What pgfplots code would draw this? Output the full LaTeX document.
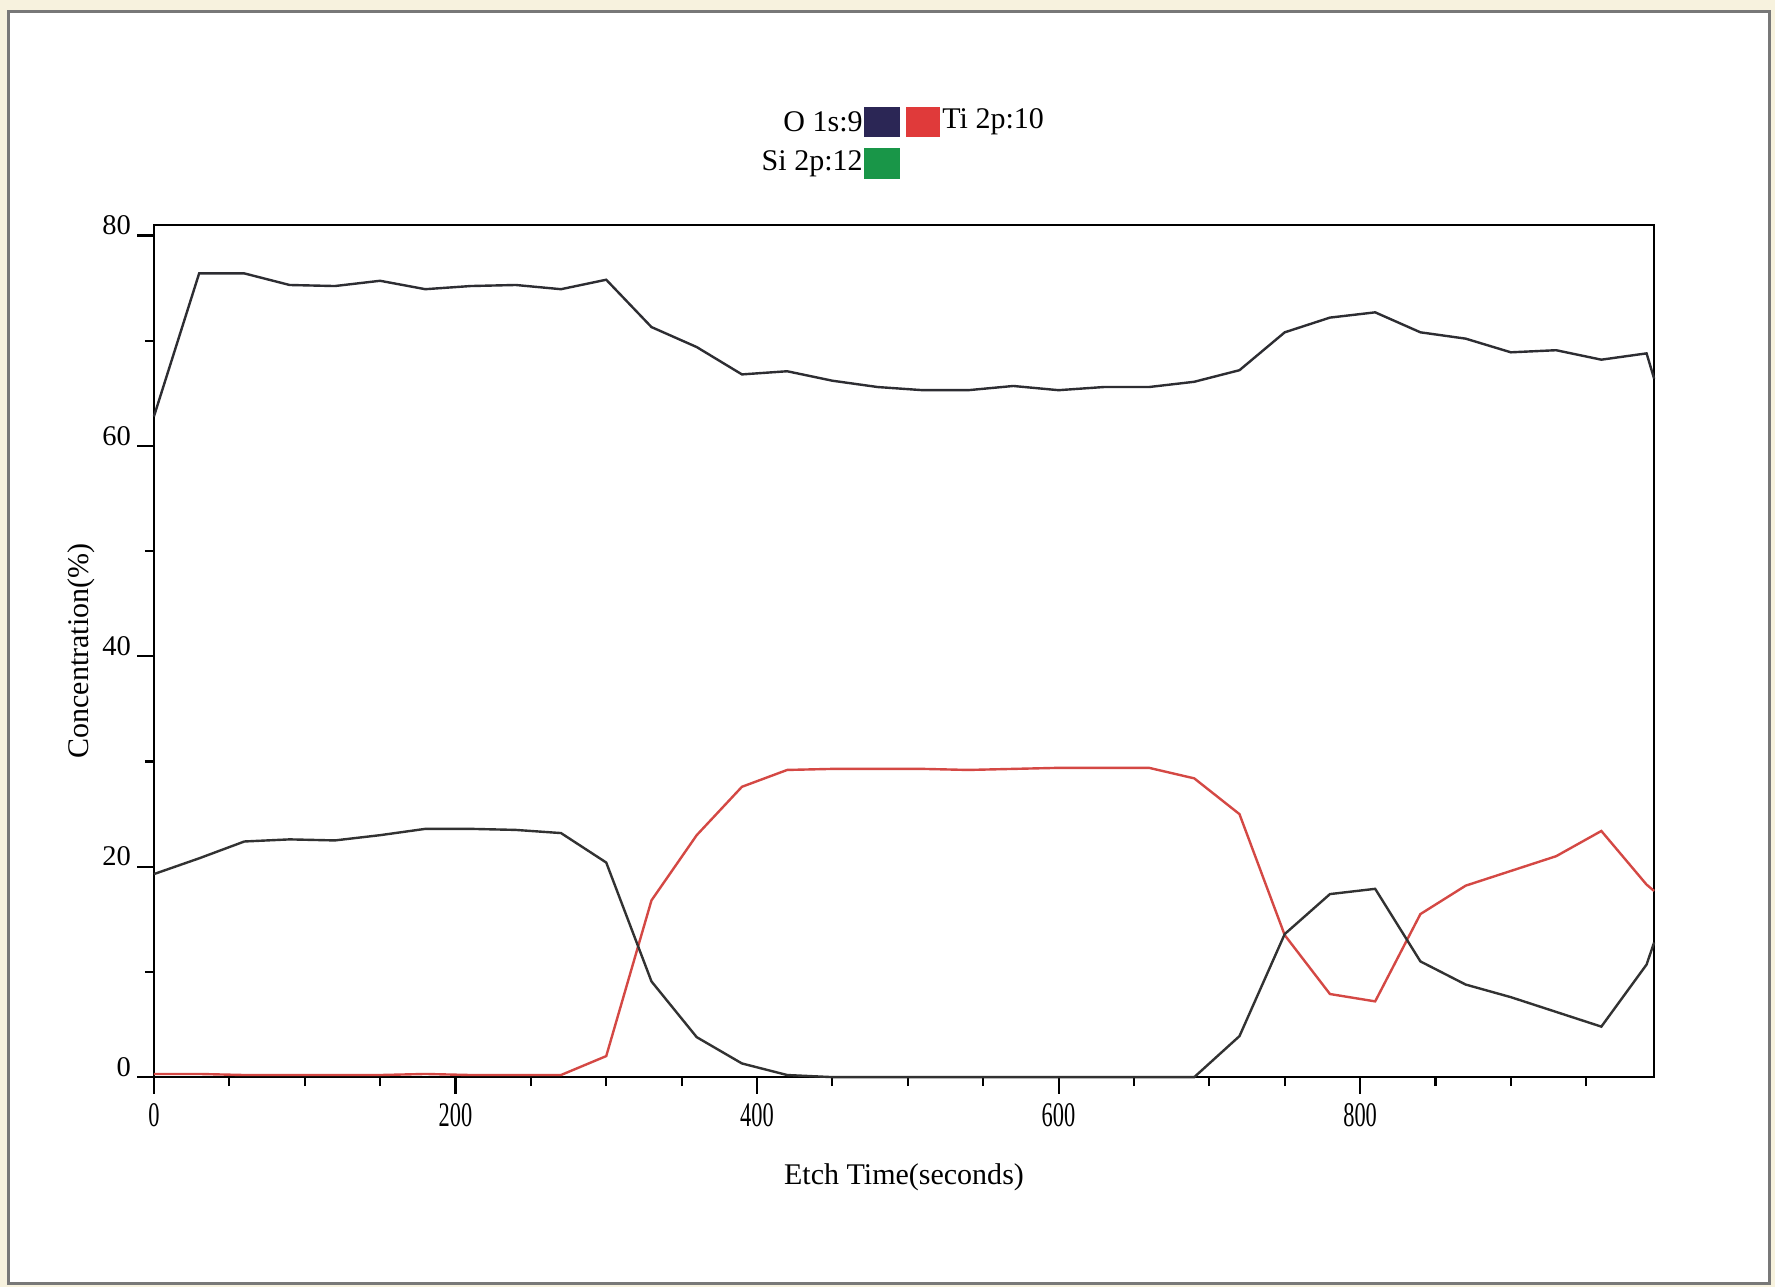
\documentclass[border=0pt]{standalone}
\usepackage{fontspec}
\setmainfont{Liberation Serif}
\usepackage{pgfplots}
\pgfplotsset{compat=1.18}

\definecolor{oline}{RGB}{45,45,50}
\definecolor{siline}{RGB}{50,50,50}
\definecolor{tiline}{RGB}{212,72,68}
\definecolor{oswatch}{RGB}{43,38,85}
\definecolor{tiswatch}{RGB}{224,58,58}
\definecolor{siswatch}{RGB}{25,150,72}
\definecolor{scanbg}{RGB}{247,242,222}
\definecolor{scanframe}{RGB}{120,120,120}

% etch time (s), concentration (%)
\pgfplotstableread{
t     O     Ti    Si
0     62.8  0.3   19.3
30    76.4  0.3   20.8
60    76.4  0.2   22.4
90    75.3  0.2   22.6
120   75.2  0.2   22.5
150   75.7  0.2   23.0
180   74.9  0.3   23.6
210   75.2  0.2   23.6
240   75.3  0.2   23.5
270   74.9  0.2   23.2
300   75.8  2.0   20.4
330   71.3  16.8  9.1
360   69.4  23.0  3.8
390   66.8  27.6  1.3
420   67.1  29.2  0.2
450   66.2  29.3  0
480   65.6  29.3  0
510   65.3  29.3  0
540   65.3  29.2  0
570   65.7  29.3  0
600   65.3  29.4  0
630   65.6  29.4  0
660   65.6  29.4  0
690   66.1  28.4  0
720   67.2  25.0  3.9
750   70.8  13.5  13.6
780   72.2  7.9   17.4
810   72.7  7.2   17.9
840   70.8  15.5  11.0
870   70.2  18.2  8.8
900   68.9  19.6  7.6
930   69.1  21.0  6.2
960   68.2  23.4  4.8
990   68.8  18.3  10.7
995   66.4  17.7  12.8
}\depth

\begin{document}
\begin{tikzpicture}
% scanned page background and frame
\fill[scanbg] (-51.3pt,-70pt) rectangle (540.3pt,359pt);
\draw[scanframe, line width=1pt, fill=white] (-48.3pt,-68.7pt) rectangle (538.3pt,355pt);

\begin{axis}[
  at={(0pt,0pt)}, anchor=south west,
  scale only axis,
  width=500pt, height=284pt,
  xmin=0, xmax=995,
  ymin=0, ymax=81,
  xtick={0,200,400,600,800},
  minor xtick={50,100,150,250,300,350,450,500,550,650,700,750,850,900,950},
  ytick={0,20,40,60,80},
  minor ytick={10,30,50,70},
  xtick pos=bottom, ytick pos=left,
  tick align=outside,
  major tick length=5.5pt,
  minor tick length=3pt,
  tick style={black, line width=0.7pt},
  axis line style={black, line width=0.7pt},
  /pgf/number format/assume math mode=true,
  xticklabel style={font=\fontsize{11.5}{12}\selectfont, xscale=0.65, anchor=north, inner sep=0pt, yshift=-3pt},
  yticklabel style={font=\fontsize{9.5}{10}\selectfont, anchor=south east, inner sep=0pt, xshift=-2pt},
  xlabel={Etch Time(seconds)},
  ylabel={Concentration(\%)},
  every axis x label/.style={at={(axis description cs:0.5,-0.117)}, anchor=center, font=\fontsize{10}{12}\selectfont},
  every axis y label/.style={at={(axis description cs:-0.0484,0.5)}, anchor=center, rotate=90, font=\fontsize{10}{12}\selectfont},
  clip=false,
]
\addplot[oline, line width=0.8pt] table[x=t, y=O] {\depth};
\addplot[tiline, line width=0.8pt] table[x=t, y=Ti] {\depth};
\addplot[siline, line width=0.8pt] table[x=t, y=Si] {\depth};
\end{axis}

% legend as printed on the instrument report
\fill[oswatch] (236.7pt,313.3pt) rectangle (248.7pt,323.2pt);
\fill[tiswatch] (250.5pt,313.3pt) rectangle (262.0pt,323.2pt);
\fill[siswatch] (236.7pt,299.3pt) rectangle (248.7pt,309.7pt);
\node[anchor=east, inner sep=0.3pt, font=\fontsize{10}{12}\selectfont] at (236.7pt,318.3pt) {O 1s:9};
\node[anchor=west, inner sep=0.6pt, font=\fontsize{10}{12}\selectfont] at (262.0pt,318.3pt) {Ti 2p:10};
\node[anchor=east, inner sep=0.3pt, font=\fontsize{10}{12}\selectfont] at (236.7pt,304.5pt) {Si 2p:12};
\end{tikzpicture}
\end{document}
